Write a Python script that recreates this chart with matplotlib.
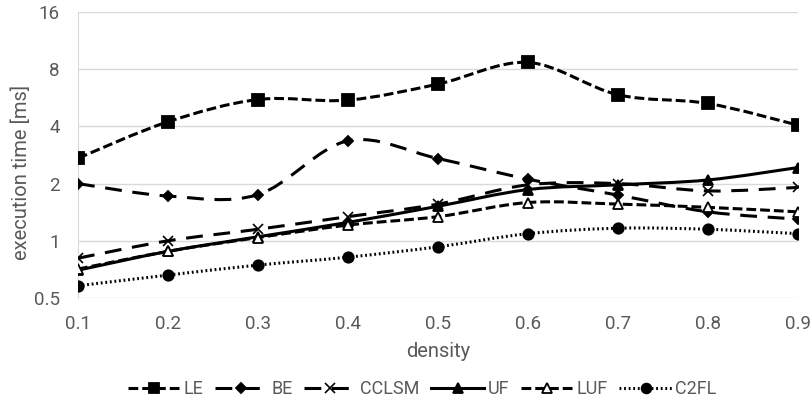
import numpy as np
import matplotlib
matplotlib.use("Agg")
import matplotlib.pyplot as plt
from matplotlib.path import Path
from matplotlib.patches import PathPatch
from matplotlib.lines import Line2D

plt.rcParams['font.family'] = ['Roboto', 'DejaVu Sans']

density = [0.1, 0.2, 0.3, 0.4, 0.5, 0.6, 0.7, 0.8, 0.9]
LE = [2.72, 4.23, 5.54, 5.5, 6.68, 8.68, 5.87, 5.28, 4.06]
BE = [2.0, 1.72, 1.75, 3.36, 2.71, 2.11, 1.74, 1.42, 1.30]
CCLSM = [0.81, 1.0, 1.15, 1.34, 1.56, 1.97, 2.0, 1.83, 1.91]
UF = [0.70, 0.88, 1.05, 1.25, 1.52, 1.86, 1.97, 2.09, 2.43]
LUF = [0.71, 0.88, 1.04, 1.21, 1.34, 1.59, 1.56, 1.50, 1.42]
C2FL = [0.58, 0.66, 0.745, 0.82, 0.93, 1.09, 1.165, 1.15, 1.09]
yticks = [0.5, 1, 2, 4, 8, 16]

series = [
    ("LE", LE, dict(ls=(0, (3.2, 1.3)), marker='s', ms=8, lms=7, mfc='black')),
    ("BE", BE, dict(ls=(0, (5.5, 3.5)), marker='D', ms=5.5, lms=5.5, mfc='black')),
    ("CCLSM", CCLSM, dict(ls=(0, (5.5, 3.5)), marker='x', ms=7.5, lms=6.5, mfc='black')),
    ("UF", UF, dict(ls='-', marker='^', ms=7, lms=6.5, mfc='black')),
    ("LUF", LUF, dict(ls=(0, (3.2, 1.3)), marker='^', ms=7, lms=6.5, mfc='white')),
    ("C2FL", C2FL, dict(ls=(0, (0.6, 0.9)), marker='o', ms=7.5, lms=7, mfc='black')),
]

fig = plt.figure(figsize=(8.12, 4.04), dpi=100)
ax = fig.add_axes([78/812, 106/404, 720/812, 286/404])
ax.set_yscale('log', base=2)
ax.set_xlim(0.1, 0.9)
ax.set_ylim(0.5, 16)

def smooth_path(x, y):
    x = np.asarray(x, float)
    ly = np.log2(np.asarray(y, float))
    n = len(x)
    verts = [(x[0], 2 ** ly[0])]
    codes = [Path.MOVETO]
    for i in range(n - 1):
        p0 = i - 1 if i > 0 else i
        p3 = i + 2 if i + 2 < n else i + 1
        c1x = x[i] + (x[i + 1] - x[p0]) / 6
        c1y = ly[i] + (ly[i + 1] - ly[p0]) / 6
        c2x = x[i + 1] - (x[p3] - x[i]) / 6
        c2y = ly[i + 1] - (ly[p3] - ly[i]) / 6
        verts += [(c1x, 2 ** c1y), (c2x, 2 ** c2y), (x[i + 1], 2 ** ly[i + 1])]
        codes += [Path.CURVE4] * 3
    return Path(verts, codes)

handles = []
for name, vals, st in series:
    patch = PathPatch(smooth_path(density, vals), fill=False, edgecolor='black',
                      lw=2.2, linestyle=st['ls'], zorder=3, capstyle='butt')
    ax.add_patch(patch)
    mew = 1.3 if st['marker'] != 'x' else 1.2
    ax.plot(density, vals, ls='none', marker=st['marker'], ms=st['ms'],
            mfc=st['mfc'], mec='black', mew=mew, zorder=4)
    handles.append(Line2D([], [], color='black', lw=2.2, ls=st['ls'],
                          marker=st['marker'], ms=st['lms'], mfc=st['mfc'],
                          mec='black', mew=mew, label=name))

ax.set_yticks(yticks)
ax.set_yticklabels([('%g' % v) for v in yticks])
ax.set_xticks(density)
ax.set_xticklabels([('%g' % v) for v in density])
ax.grid(axis='y', color='#d9d9d9', lw=1)
ax.set_axisbelow(True)
for s in ['top', 'right', 'bottom']:
    ax.spines[s].set_visible(False)
ax.spines['left'].set_color('#d9d9d9')
ax.tick_params(axis='x', length=0, labelsize=13.5, colors='#595959', pad=12)
ax.tick_params(axis='y', length=0, labelsize=13.5, colors='#595959', pad=13)
ax.set_xlabel('density', fontsize=14.5, color='#595959', labelpad=7)
ax.set_ylabel('execution time [ms]', fontsize=14.5, color='#595959', labelpad=3)
ax.yaxis.set_label_coords(-0.065, 0.44)

fig.legend(handles=handles, loc='center', bbox_to_anchor=(0.52, 1 - 389/404),
           ncol=6, frameon=False, fontsize=13, handlelength=2.9,
           handletextpad=0.2, columnspacing=0.65, labelcolor='#595959')

fig.savefig('out.png', dpi=100)
